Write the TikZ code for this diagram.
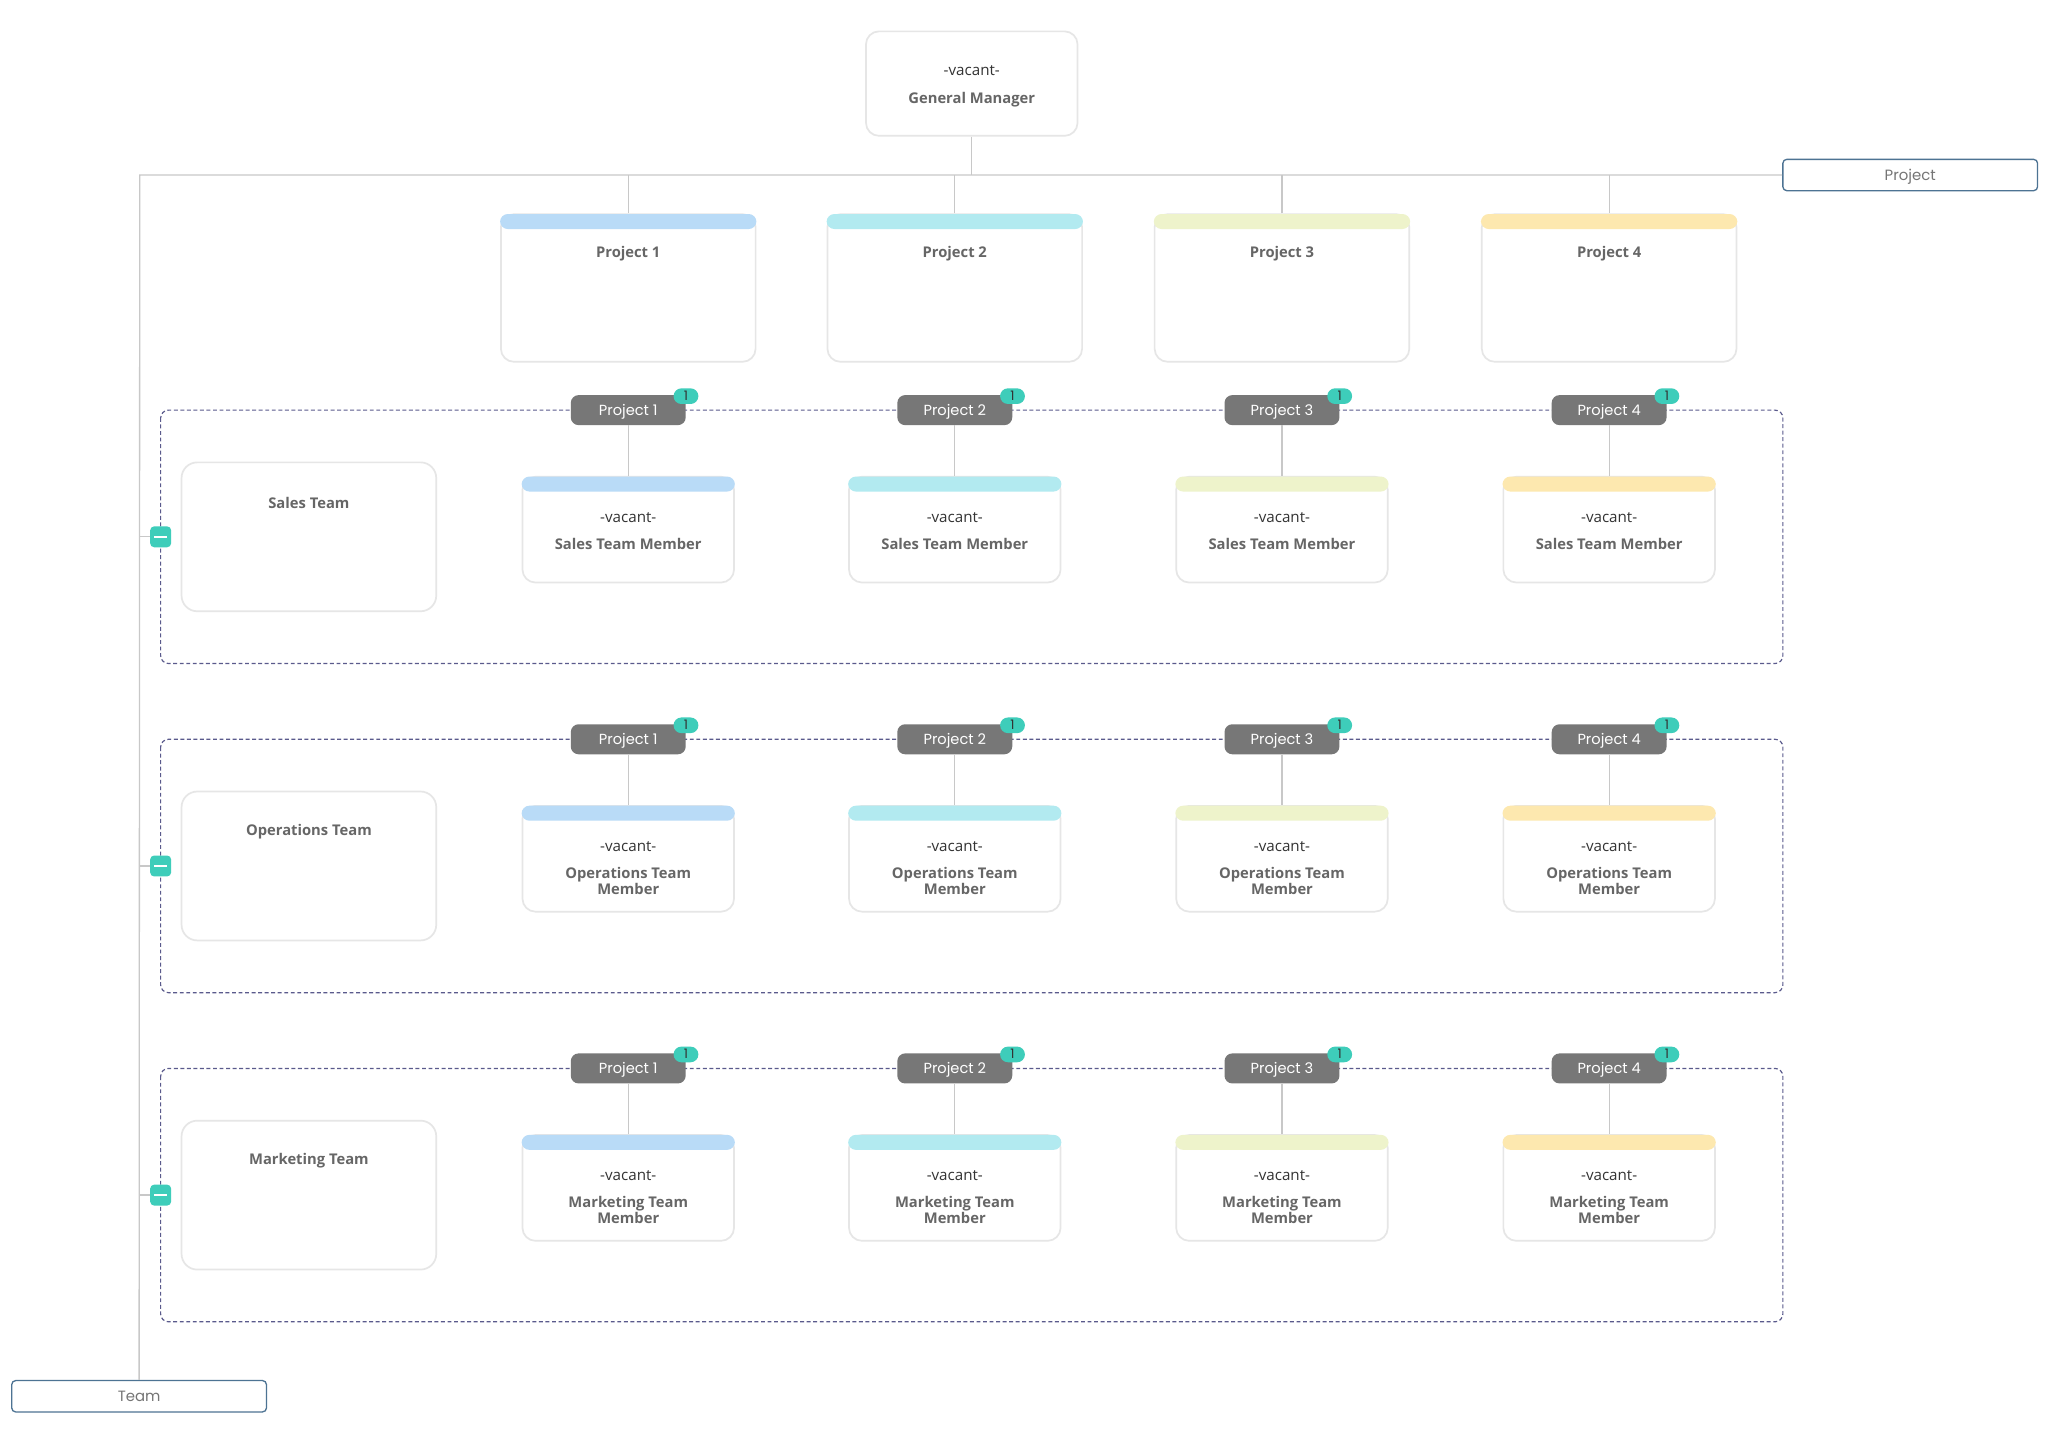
\documentclass[tikz,border=0pt]{standalone}
\usepackage{fontspec}
\setmainfont{Open Sans}
\newfontfamily\pop{Poppins}
\definecolor{linegray}{HTML}{C8C8C8}
\definecolor{boxgray}{HTML}{E6E6E6}
\definecolor{txtgray}{HTML}{666666}
\definecolor{txtdark}{HTML}{333333}
\definecolor{pillgray}{HTML}{777777}
\definecolor{teal}{HTML}{3ECDBA}
\definecolor{dashcol}{HTML}{5A5A8C}
\definecolor{labelblue}{HTML}{4D7393}
\definecolor{barA}{HTML}{B9DBF7}
\definecolor{barB}{HTML}{B2EAF0}
\definecolor{barC}{HTML}{EEF3CB}
\definecolor{barD}{HTML}{FDE8AF}
\tikzset{
  conn/.style={draw=linegray, line width=1pt},
  cardbox/.style={draw=boxgray, line width=1.3pt, fill=white, rounded corners=10pt, inner sep=0pt},
  boldtxt/.style={font=\fontsize{11.3}{12}\selectfont\bfseries, text=txtgray, align=center, inner sep=0pt},
  vactxt/.style={font=\fontsize{11.6}{13}\selectfont, text=txtdark, inner sep=0pt},
  pillbox/.style={fill=pillgray, rounded corners=6pt, minimum width=88pt, minimum height=23pt, inner sep=0pt, text height=7.8pt, text depth=0pt, text=white, font=\pop\fontsize{11.2}{12}\selectfont},
  badge/.style={fill=teal, rounded corners=6pt, minimum width=19pt, minimum height=12pt, inner sep=0pt, text height=6.8pt, text depth=0pt, text=black!80, font=\pop\fontsize{10}{10}\selectfont},
  groupbox/.style={draw=dashcol, line width=0.9pt, dash pattern=on 3pt off 2pt, rounded corners=6pt},
  minusbtn/.style={fill=teal, rounded corners=3pt, minimum width=16pt, minimum height=16pt, inner sep=0pt,
    path picture={\draw[white, line width=1.8pt] ([xshift=-5pt]path picture bounding box.center) -- ([xshift=5pt]path picture bounding box.center);}},
  axislabel/.style={draw=labelblue, line width=1pt, rounded corners=3pt, fill=white, minimum width=195pt, minimum height=24pt, inner sep=0pt, text height=8pt, text depth=0pt, text=txtgray!90, font=\pop\fontsize{11.4}{12}\selectfont}
}
\begin{document}
\begin{tikzpicture}[x=1pt,y=-1pt]
\useasboundingbox (0,0) rectangle (1568,1098);
\fill[white] (0,0) rectangle (1568,1098);

% axis labels
\node[axislabel] (projlabel) at (1462.5,134) {Project};
\node[axislabel] (teamlabel) at (106.5,1069) {Team};
\coordinate (corner) at (107,134);
\draw[conn] (projlabel.west) -- (corner) -- (teamlabel.north);

% general manager
\node[cardbox, minimum width=162pt, minimum height=80pt] (gm) at (744,64) {};
\node[vactxt] (gmvac) at (744,54) {-vacant-};
\node[boldtxt] (gmtitle) at (744,76) {General Manager};
\draw[conn] (gm.south) -- (gm.south |- corner);

% project headers
\foreach \c/\x/\col in {1/481/barA, 2/731/barB, 3/981.5/barC, 4/1232/barD} {
  \node[cardbox, minimum width=195pt, minimum height=113pt] (hdr\c) at (\x,220.5) {};
  \fill[\col, rounded corners=6pt] ([yshift=-0.5pt]hdr\c.north west) rectangle ([yshift=-12pt]hdr\c.north east);
  \node[boldtxt] (hdrtitle\c) at (\x,194) {Project \c};
  \draw[conn] (hdr\c.north) -- (hdr\c.north |- corner);
}

% team groups
\foreach \t/\off/\tname/\mname in {s/0/Sales Team/Sales Team Member, o/252/Operations Team/{Operations Team\\Member}, m/504/Marketing Team/{Marketing Team\\Member}} {
  \draw[groupbox] (123,314+\off) rectangle (1365,508+\off);
  \node[cardbox, rounded corners=12pt, minimum width=195pt, minimum height=114pt] (team\t) at (236.5,411+\off) {};
  \node[boldtxt] (teamtitle\t) at (236.5,385+\off) {\tname};
  \node[minusbtn] (minus\t) at (123,411+\off) {};
  \draw[conn] (minus\t.west) -- (minus\t.west -| corner);
  \foreach \c/\x/\col in {1/481/barA, 2/731/barB, 3/981.5/barC, 4/1232/barD} {
    \node[pillbox] (pill\t\c) at (\x,314+\off) {Project \c};
    \node[badge] (badge\t\c) at ([xshift=0pt,yshift=-1pt]pill\t\c.north east) {1};
    \node[cardbox, minimum width=162pt, minimum height=81pt] (mem\t\c) at (\x,405.5+\off) {};
    \fill[\col, rounded corners=6pt] ([yshift=-0.5pt]mem\t\c.north west) rectangle ([yshift=-12pt]mem\t\c.north east);
    \node[vactxt] (memvac\t\c) at (\x,396+\off) {-vacant-};
    \node[boldtxt, anchor=north] (memtitle\t\c) at (\x,412+\off) {\mname};
    \draw[conn] (pill\t\c.south) -- (mem\t\c.north);
  }
}
\end{tikzpicture}
\end{document}
